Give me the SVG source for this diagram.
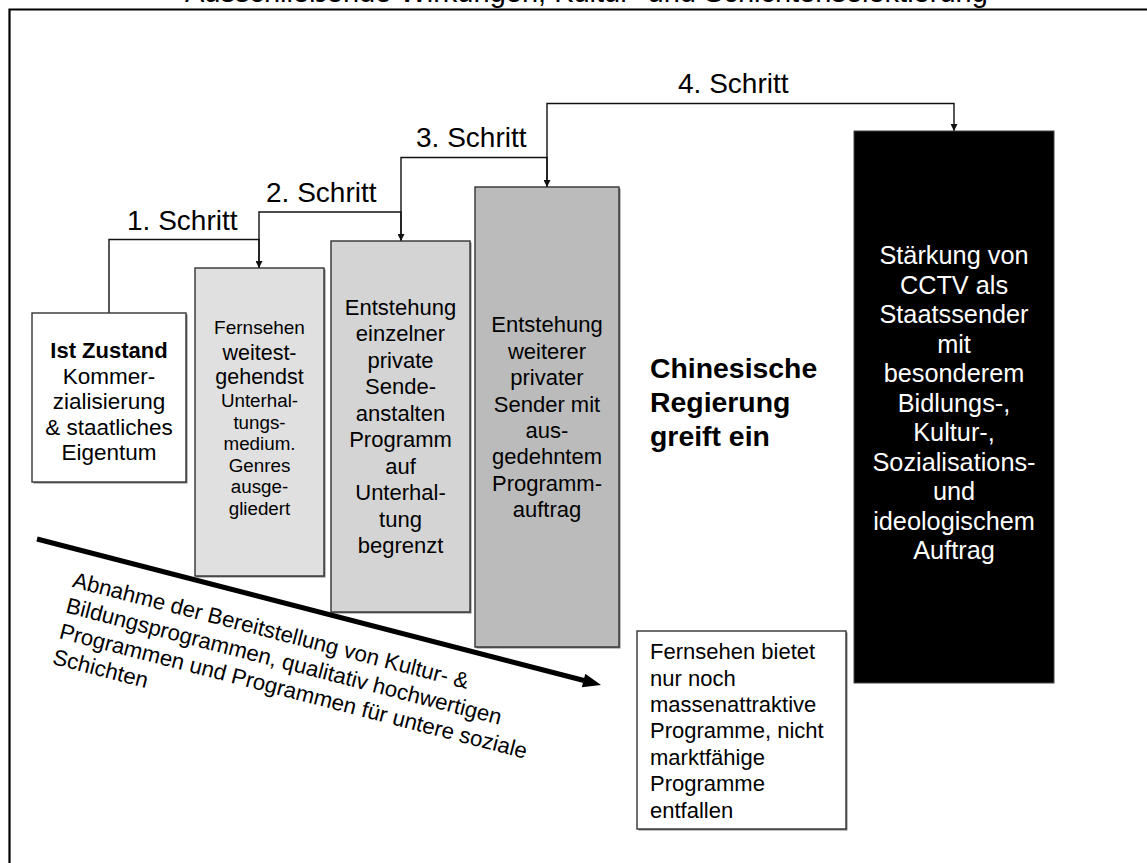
<svg xmlns="http://www.w3.org/2000/svg" width="1147" height="863" viewBox="0 0 1147 863">
  <defs>
    <style>
      .t { font-family: "Liberation Sans", Arial, sans-serif; fill: #000; }
      .c { text-anchor: middle; }
      .b { font-weight: bold; }
      .w { fill: #fff; }
      .box { stroke: #333; stroke-width: 1.4; }
      .shadow { fill: #808080; }
      .conn { fill: none; stroke: #111; stroke-width: 1.4; }
    </style>
    <marker id="tip" viewBox="0 0 8 8" refX="8" refY="4" markerWidth="8" markerHeight="7" markerUnits="userSpaceOnUse" orient="auto">
      <path d="M0,0 L8,4 L0,8 z" fill="#111"/>
    </marker>
  </defs>

  <rect width="1147" height="863" fill="#fff"/>

  <!-- heading, mostly above the frame -->
  <text class="t" x="185" y="1.5" font-size="29">Ausschließende Wirkungen, Kultur- und Schichtenselektierung</text>

  <!-- frame -->
  <path d="M1150,9.5 H9.5 V870" fill="none" stroke="#000" stroke-width="2.2"/>

  <!-- step connectors -->
  <g id="connectors">
    <path class="conn" d="M109,313 V239.5 H259 V268" marker-end="url(#tip)"/>
    <path class="conn" d="M259,268 V212 H401 V241" marker-end="url(#tip)"/>
    <path class="conn" d="M401,241 V157.5 H547 V187" marker-end="url(#tip)"/>
    <path class="conn" d="M547,187 V103.5 H954 V131" marker-end="url(#tip)"/>
    <text class="t" x="127" y="230" font-size="28">1. Schritt</text>
    <text class="t" x="266" y="201.5" font-size="28">2. Schritt</text>
    <text class="t" x="416" y="147" font-size="28">3. Schritt</text>
    <text class="t" x="678" y="93" font-size="28">4. Schritt</text>
  </g>

  <g id="ist-zustand">
    <rect class="shadow" x="33.5" y="314.5" width="154" height="169"/>
    <rect class="box" x="32" y="313" width="154" height="169" fill="#fff"/>
    <text class="t c b" x="109" y="358" font-size="22">Ist Zustand</text>
    <text class="t c" x="109" y="383.5" font-size="22.5">Kommer-</text>
    <text class="t c" x="109" y="409" font-size="22.5">zialisierung</text>
    <text class="t c" x="109" y="434.5" font-size="22.5">&amp; staatliches</text>
    <text class="t c" x="109" y="460" font-size="22.5">Eigentum</text>
  </g>

  <g id="schritt-1">
    <rect class="shadow" x="196.5" y="269.5" width="129" height="308"/>
    <rect class="box" x="195" y="268" width="129" height="308" fill="#e0e0e0"/>
    <text class="t c" x="259.5" y="334" font-size="19">Fernsehen</text>
    <text class="t c" x="259.5" y="359.5" font-size="21.5">weitest-</text>
    <text class="t c" x="259.5" y="384" font-size="21.5">gehendst</text>
    <text class="t c" x="259.5" y="407" font-size="18.8">Unterhal-</text>
    <text class="t c" x="259.5" y="428.5" font-size="18.8">tungs-</text>
    <text class="t c" x="259.5" y="450" font-size="18.8">medium.</text>
    <text class="t c" x="259.5" y="471.5" font-size="18.8">Genres</text>
    <text class="t c" x="259.5" y="493" font-size="18.8">ausge-</text>
    <text class="t c" x="259.5" y="514.5" font-size="18.8">gliedert</text>
  </g>

  <g id="schritt-2">
    <rect class="shadow" x="332.5" y="242.5" width="139" height="371"/>
    <rect class="box" x="331" y="241" width="139" height="371" fill="#d4d4d4"/>
    <g class="t c" font-size="22">
      <text x="400.5" y="314.5">Entstehung</text>
      <text x="400.5" y="341">einzelner</text>
      <text x="400.5" y="367.5">private</text>
      <text x="400.5" y="394">Sende-</text>
      <text x="400.5" y="420.5">anstalten</text>
      <text x="400.5" y="447">Programm</text>
      <text x="400.5" y="473.5">auf</text>
      <text x="400.5" y="500">Unterhal-</text>
      <text x="400.5" y="526.5">tung</text>
      <text x="400.5" y="553">begrenzt</text>
    </g>
  </g>

  <g id="schritt-3">
    <rect class="shadow" x="476.5" y="188.5" width="144" height="460"/>
    <rect class="box" x="475" y="187" width="144" height="460" fill="#bbbbbb"/>
    <g class="t c" font-size="22">
      <text x="547" y="332">Entstehung</text>
      <text x="547" y="358.5">weiterer</text>
      <text x="547" y="385">privater</text>
      <text x="547" y="411.5">Sender mit</text>
      <text x="547" y="438">aus-</text>
      <text x="547" y="464">gedehntem</text>
      <text x="547" y="490.5">Programm-</text>
      <text x="547" y="517">auftrag</text>
    </g>
  </g>

  <g id="regierung">
    <text class="t b" x="650" y="377.5" font-size="28.4">Chinesische</text>
    <text class="t b" x="650" y="411.5" font-size="28.4">Regierung</text>
    <text class="t b" x="650" y="445.5" font-size="28.4">greift ein</text>
  </g>

  <g id="schritt-4">
    <rect x="854" y="131" width="200" height="552" fill="#000" stroke="#444" stroke-width="1"/>
    <g class="t c w" font-size="25.3">
      <text x="954" y="264">Stärkung von</text>
      <text x="954" y="293.5">CCTV als</text>
      <text x="954" y="323">Staatssender</text>
      <text x="954" y="352.5">mit</text>
      <text x="954" y="382">besonderem</text>
      <text x="954" y="411.5">Bidlungs-,</text>
      <text x="954" y="441">Kultur-,</text>
      <text x="954" y="470.5">Sozialisations-</text>
      <text x="954" y="500">und</text>
      <text x="954" y="529.5">ideologischem</text>
      <text x="954" y="559">Auftrag</text>
    </g>
  </g>

  <g id="folge">
    <rect class="shadow" x="638.5" y="632.5" width="209" height="198"/>
    <rect class="box" x="637" y="631" width="209" height="198" fill="#fff"/>
    <g class="t" font-size="22">
      <text x="650" y="659">Fernsehen bietet</text>
      <text x="650" y="685.5">nur noch</text>
      <text x="650" y="712">massenattraktive</text>
      <text x="650" y="738.4">Programme, nicht</text>
      <text x="650" y="764.8">marktfähige</text>
      <text x="650" y="791.3">Programme</text>
      <text x="650" y="817.7">entfallen</text>
    </g>
  </g>

  <!-- downward trend arrow with its caption -->
  <g id="abnahme">
    <line x1="37" y1="539" x2="584" y2="680.5" stroke="#000" stroke-width="5"/>
    <polygon points="601,685 581.8,687.3 585.3,673.7" fill="#000"/>
    <g class="t" font-size="22.2" transform="translate(71.4 586.7) rotate(14.5)">
      <text x="0" y="0">Abnahme der Bereitstellung von Kultur- &amp;</text>
      <text x="0" y="26.5">Bildungsprogrammen, qualitativ hochwertigen</text>
      <text x="0" y="53">Programmen und Programmen für untere soziale</text>
      <text x="0" y="79.5">Schichten</text>
    </g>
  </g>
</svg>
